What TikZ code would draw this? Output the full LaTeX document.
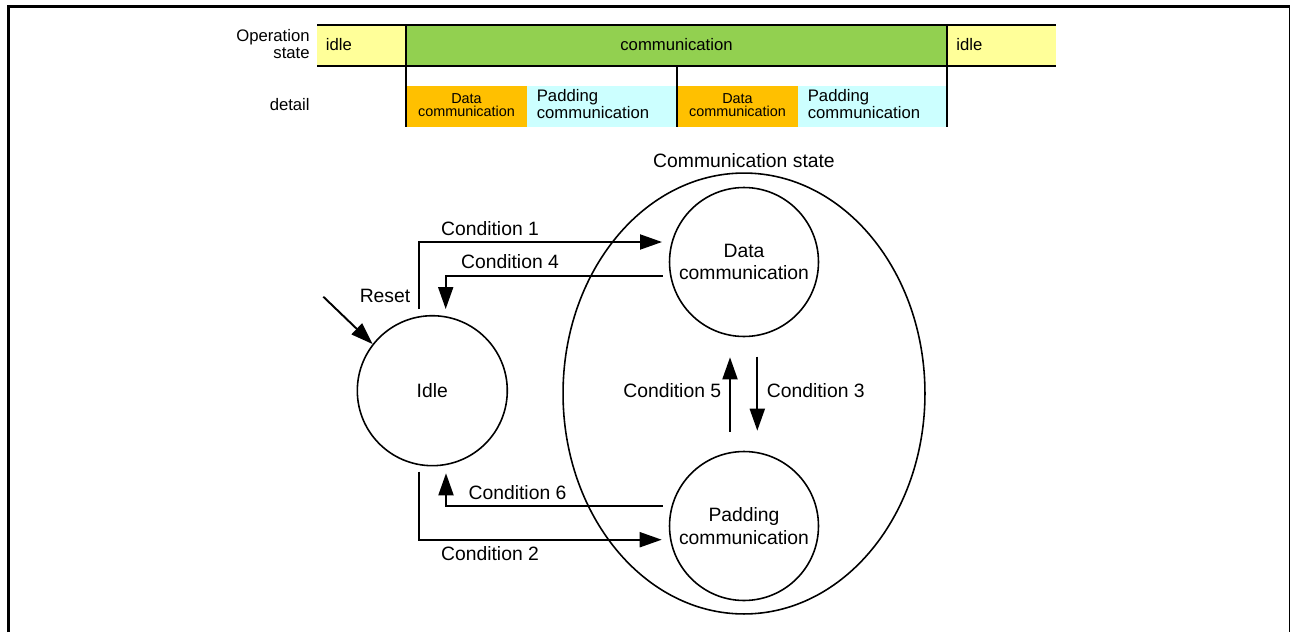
\documentclass[tikz,border=0pt]{standalone}
\usepackage{fontspec}
\setmainfont{Liberation Sans}
\usetikzlibrary{arrows.meta,calc,shapes.geometric}

\definecolor{idleyellow}{HTML}{FFFF99}
\definecolor{commgreen}{HTML}{92D050}
\definecolor{dataorange}{HTML}{FFC000}
\definecolor{padcyan}{HTML}{CCFFFF}

\tikzset{
  state/.style={circle,draw,line width=0.9pt,minimum size=2.98cm,inner sep=0pt,align=center,font=\fontsize{11}{13}\selectfont},
  flow/.style={line width=1.1pt,-{Triangle[length=0.44cm,width=0.3cm]}},
  cond/.style={font=\fontsize{11}{13}\selectfont,inner sep=0pt},
  barlbl/.style={font=\fontsize{9.5}{9.7}\selectfont,inner sep=0pt,align=center},
  smalllbl/.style={font=\fontsize{8.2}{7.4}\selectfont,inner sep=0pt,align=center},
}

\begin{document}
\begin{tikzpicture}[x=0.02cm,y=-0.02cm]
  \useasboundingbox (0,0) rectangle (1291,632);

  % Frame
  \draw[line width=1.7pt] (8.5,632) -- (8.5,6.5) -- (1290,6.5);
  \draw[line width=1.1pt] (1289.5,6.5) -- (1289.5,632);

  % Operation state bar
  \fill[idleyellow] (317,25) rectangle (406,66);
  \fill[commgreen] (406,25) rectangle (947,66);
  \fill[idleyellow] (947,25) rectangle (1056,66);

  % Detail row
  \fill[dataorange] (406,86) rectangle (527,127);
  \fill[padcyan] (527,86) rectangle (677,127);
  \fill[dataorange] (677,86) rectangle (798,127);
  \fill[padcyan] (798,86) rectangle (947,127);

  \draw[line width=1.1pt] (317,25) -- (1056,25) (317,66) -- (1056,66);
  \draw[line width=1.1pt] (406,25) -- (406,127) (947,25) -- (947,127) (677,66) -- (677,127);

  \node[barlbl,anchor=east,align=right] (oplbl) at (310,43.8) {Operation\\state};
  \node[barlbl,anchor=east] (detlbl) at (310,105) {detail};
  \node[barlbl,anchor=west] (idleA) at (325.5,44.5) {idle};
  \node[barlbl] (commA) at (676.5,44.7) {communication};
  \node[barlbl,anchor=west] (idleB) at (956,44.5) {idle};
  \node[smalllbl] (dataA) at (466.5,105.5) {Data\\communication};
  \node[barlbl,anchor=west,align=left] (padA) at (536.5,104.5) {Padding\\communication};
  \node[smalllbl] (dataB) at (737.5,105.5) {Data\\communication};
  \node[barlbl,anchor=west,align=left] (padB) at (807.5,104.5) {Padding\\communication};

  % States
  \node[state,minimum size=3cm] (idle) at (432.3,390.7) {Idle};
  \node[state] (data) at (744,262) {Data\\communication};
  \node[state] (pad) at (744,526) {Padding\\communication};
  \node[ellipse,draw,line width=0.9pt,minimum width=7.24cm,minimum height=8.82cm] (comm) at (744,393.5) {};
  \node[cond] (commlbl) at (744,160.7) {Communication state};

  % Transitions
  \coordinate (rst) at (323.3,296.7);
  \draw[flow] (rst) -- (idle.142);
  \draw[flow] ($(idle.center)+(-13.3,-81.7)$) |- ($(data.center)+(-82,-20)$);
  \draw[flow] ($(data.center)+(-81.3,14)$) -| ($(idle.center)+(13.4,-81.7)$);
  \draw[flow] ($(pad.center)+(-81.3,-19.7)$) -| ($(idle.center)+(13.7,82.6)$);
  \draw[flow] ($(idle.center)+(-13.3,81)$) |- ($(pad.center)+(-82.3,13.7)$);
  \draw[flow] ($(pad.center)+(-14,-94.3)$) -- ($(data.center)+(-14,95.3)$);
  \draw[flow] ($(data.center)+(13.3,94.7)$) -- ($(pad.center)+(13.3,-95.3)$);

  \node[cond] (c1) at (490,228.3) {Condition 1};
  \node[cond] (c4) at (510,261.7) {Condition 4};
  \node[cond] (rstlbl) at (385,295.7) {Reset};
  \node[cond,anchor=east] (c5) at (721.5,390.7) {Condition 5};
  \node[cond,anchor=west] (c3) at (766.5,390.7) {Condition 3};
  \node[cond] (c6) at (517.5,492.3) {Condition 6};
  \node[cond] (c2) at (490,553.3) {Condition 2};
\end{tikzpicture}
\end{document}
